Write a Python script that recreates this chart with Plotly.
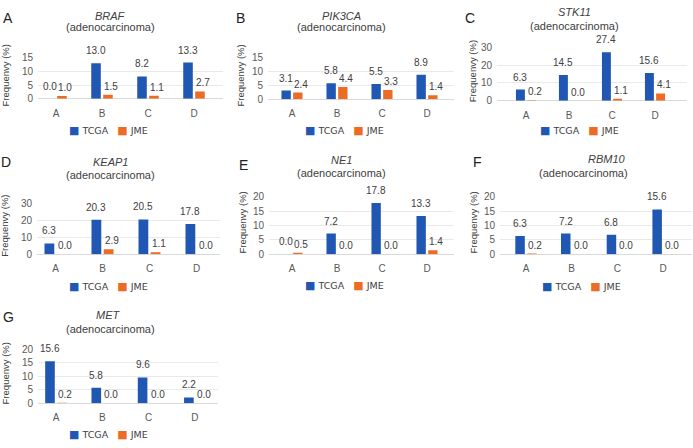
import plotly.graph_objects as go

# ---------------- data ----------------
categories = ["A", "B", "C", "D"]
series_names = ["TCGA", "JME"]

braf_tcga = [0.0, 13.0, 8.2, 13.3]
braf_jme = [1.0, 1.5, 1.1, 2.7]
pik3ca_tcga = [3.1, 5.8, 5.5, 8.9]
pik3ca_jme = [2.4, 4.4, 3.3, 1.4]
stk11_tcga = [6.3, 14.5, 27.4, 15.6]
stk11_jme = [0.2, 0.0, 1.1, 4.1]
keap1_tcga = [6.3, 20.3, 20.5, 17.8]
keap1_jme = [0.0, 2.9, 1.1, 0.0]
ne1_tcga = [0.0, 7.2, 17.8, 13.3]
ne1_jme = [0.5, 0.0, 0.0, 1.4]
rbm10_tcga = [6.3, 7.2, 6.8, 15.6]
rbm10_jme = [0.2, 0.0, 0.0, 0.0]
met_tcga = [15.6, 5.8, 9.6, 2.2]
met_jme = [0.2, 0.0, 0.0, 0.0]

panel_letters = ["A", "B", "C", "D", "E", "F", "G"]
genes = ["BRAF", "PIK3CA", "STK11", "KEAP1", "NE1", "RBM10", "MET"]
subtitle = "(adenocarcinoma)"
y_title = "Frequenvy (%)"
y_max = [15, 15, 30, 30, 20, 20, 20]
y_step = [5, 5, 10, 10, 5, 5, 5]
tcga_sets = [braf_tcga, pik3ca_tcga, stk11_tcga, keap1_tcga, ne1_tcga, rbm10_tcga, met_tcga]
jme_sets = [braf_jme, pik3ca_jme, stk11_jme, keap1_jme, ne1_jme, rbm10_jme, met_jme]

# ---------------- layout geometry (pixels) ----------------
W, H = 693, 448
BARGAP, BARGROUPGAP = 0.48, 0.2
# plot area boxes (gridline extent): x0, x1, y_top, y_bottom
boxes = [
    (38, 223, 53.3, 95.3),
    (268, 454, 53.3, 95.7),
    (497, 687, 42.7, 97.3),
    (37, 220, 202.7, 255.0),
    (269, 454, 196.0, 255.0),
    (500, 692, 196.0, 255.0),
    (38, 218, 352.7, 408.3),
]
# pixel centre of the first category and category pitch in each panel
first_cat_px = [56, 292, 526, 55.5, 292, 526, 56]
cat_pitch_px = [46, 45, 43, 47, 45, 45.7, 46.3]

gene_pos = [(110, 10), (341, 10), (574, 6), (110, 160), (341, 158), (607, 157), (108, 318)]
sub_pos = [(110, 22), (341, 22), (574, 21), (110, 174), (341, 172), (583, 172), (110, 332)]
letter_pos = [(8, 12), (240, 12), (470, 12), (6, 160), (243, 163), (477, 160), (8, 320)]
ytitle_x = [5, 241, 472, 5, 243, 474, 5]
legend_pos = [(108, 128), (344, 128), (579, 128), (108, 288), (344, 287), (581, 288), (108, 440)]

BLUE = "#1F57B3"
ORANGE = "#EC6B25"
TEXT = "#404040"
TICK = "#595959"
GRID = "#E9E9E9"
FONT = "Liberation Sans, Arial, sans-serif"


def px(x):
    return x / W


def py(y):
    return 1 - y / H


fig = go.Figure()
annotations = []

for i in range(7):
    ax = "" if i == 0 else str(i + 1)
    x0, x1, yt, yb = boxes[i]
    pitch = cat_pitch_px[i]
    r0 = -(first_cat_px[i] - x0) / pitch
    r1 = r0 + (x1 - x0) / pitch
    bar_off = pitch * (1 - BARGAP) / 4  # centre offset of each bar within its group
    for k, (name, vals, col) in enumerate(((series_names[0], tcga_sets[i], BLUE),
                                           (series_names[1], jme_sets[i], ORANGE))):
        fig.add_trace(go.Bar(
            x=categories, y=vals, name=name, marker_color=col, marker_line_width=0,
            xaxis="x" + ax, yaxis="y" + ax, showlegend=False,
            hovertemplate=name + " %{x}: %{y:.1f}<extra></extra>",
        ))
        # value labels above bars (placed on the data coordinates)
        for c, v in zip(categories, vals):
            annotations.append(dict(
                text=f"{v:.1f}", x=c, y=v, xref="x" + ax, yref="y" + ax,
                showarrow=False, xanchor="center", yanchor="bottom",
                xshift=(-bar_off if k == 0 else bar_off + 3), yshift=(5 if k == 0 else 1),
                font=dict(size=10, color=TEXT, family=FONT),
            ))
    fig.layout["xaxis" + ax] = dict(
        domain=[px(x0), px(x1)], anchor="y" + ax, type="category",
        categoryorder="array", categoryarray=categories, range=[r0, r1],
        showgrid=False, showline=False, zeroline=False,
        ticks="outside", ticklen=5, tickcolor="rgba(0,0,0,0)",
        tickfont=dict(size=10, color=TICK, family=FONT), fixedrange=True,
    )
    fig.layout["yaxis" + ax] = dict(
        domain=[py(yb), py(yt)], anchor="x" + ax, range=[0, y_max[i]],
        dtick=y_step[i], tick0=0, showgrid=True, gridcolor=GRID, gridwidth=1,
        zeroline=True, zerolinecolor="#D9D9D9", zerolinewidth=1, showline=False,
        ticks="outside", ticklen=2, tickcolor="rgba(0,0,0,0)",
        tickfont=dict(size=10, color=TICK, family=FONT), fixedrange=True,
    )
    # titles
    annotations.append(dict(text=f"<i>{genes[i]}</i>", x=px(gene_pos[i][0]), y=py(gene_pos[i][1]),
                            xref="paper", yref="paper", showarrow=False, xanchor="center", yanchor="middle",
                            font=dict(size=11, color=TEXT, family=FONT)))
    annotations.append(dict(text=subtitle, x=px(sub_pos[i][0]), y=py(sub_pos[i][1]),
                            xref="paper", yref="paper", showarrow=False, xanchor="center", yanchor="middle",
                            font=dict(size=11, color=TEXT, family=FONT)))
    annotations.append(dict(text=panel_letters[i], x=px(letter_pos[i][0]), y=py(letter_pos[i][1]),
                            xref="paper", yref="paper", showarrow=False, xanchor="center", yanchor="middle",
                            font=dict(size=14, color="#222222", family=FONT)))
    annotations.append(dict(text=y_title, x=px(ytitle_x[i]), y=py((yt + yb) / 2 - 3),
                            xref="paper", yref="paper", showarrow=False, xanchor="center", yanchor="middle",
                            textangle=-90, font=dict(size=9.5, color=TEXT, family=FONT)))
    leg = (f"<span style='color:{BLUE};font-size:11px'>■</span>&nbsp;{series_names[0]}&nbsp;&nbsp;&nbsp;"
           f"<span style='color:{ORANGE};font-size:11px'>■</span>&nbsp;{series_names[1]}")
    annotations.append(dict(text=leg, x=px(legend_pos[i][0]), y=py(legend_pos[i][1]),
                            xref="paper", yref="paper", showarrow=False, xanchor="center", yanchor="middle",
                            font=dict(size=9.5, color=TEXT, family="DejaVu Sans, " + FONT)))

fig.update_layout(
    width=W, height=H, margin=dict(l=0, r=0, t=0, b=0),
    paper_bgcolor="white", plot_bgcolor="white",
    barmode="group", bargap=BARGAP, bargroupgap=BARGROUPGAP,
    annotations=annotations, showlegend=False, hovermode=False,
    font=dict(family=FONT, color=TEXT),
)

# remove the browser's default 8px page margin so the figure sits at the window origin
fig.write_html(
    "out.html",
    config={"displayModeBar": False, "staticPlot": True},
    post_script="document.body.style.margin='0';document.body.style.overflow='hidden';",
)
